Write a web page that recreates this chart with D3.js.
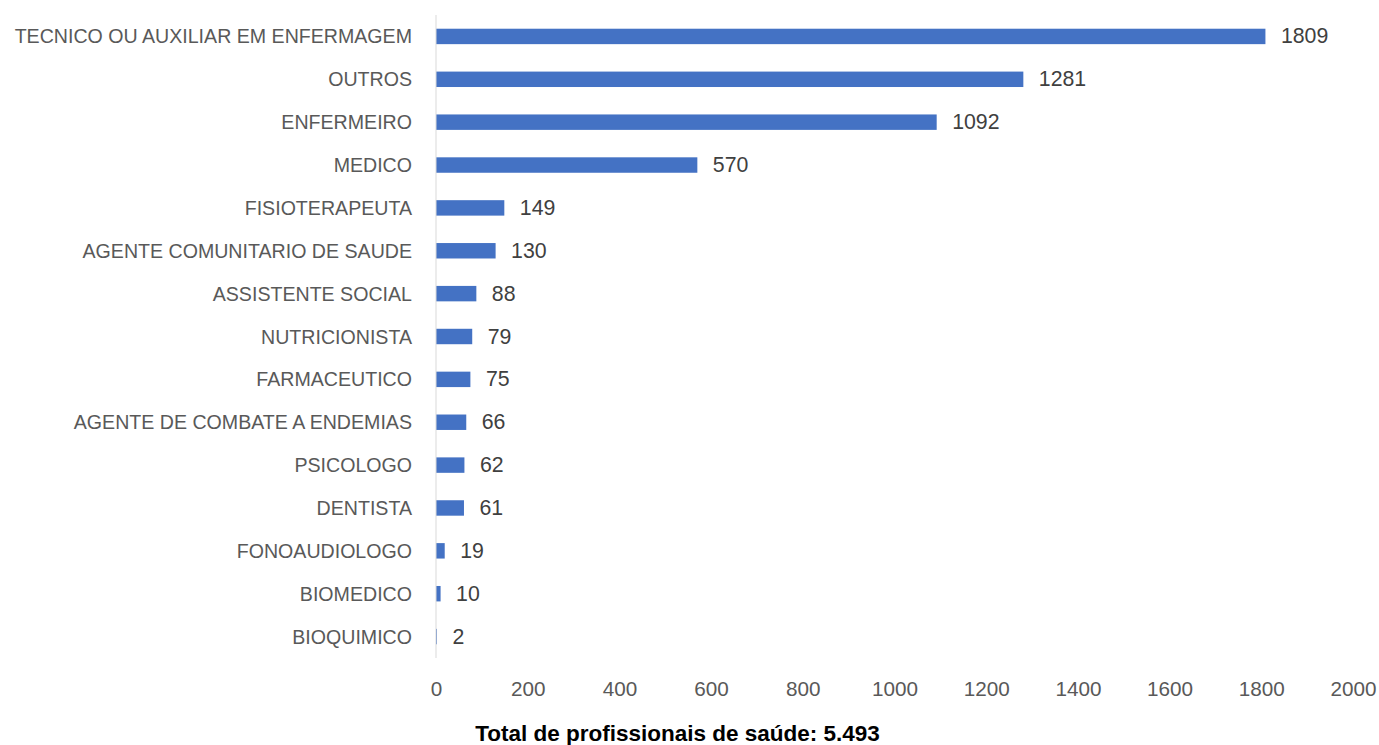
<!DOCTYPE html>
<html><head><meta charset="utf-8">
<script src="https://cdn.jsdelivr.net/npm/d3@7"></script>
<style>body{margin:0;background:#fff}</style>
</head><body>
<svg id="chart" width="1379" height="745"></svg>
<script>
const categories = ["TECNICO OU AUXILIAR EM ENFERMAGEM","OUTROS","ENFERMEIRO","MEDICO","FISIOTERAPEUTA","AGENTE COMUNITARIO DE SAUDE","ASSISTENTE SOCIAL","NUTRICIONISTA","FARMACEUTICO","AGENTE DE COMBATE A ENDEMIAS","PSICOLOGO","DENTISTA","FONOAUDIOLOGO","BIOMEDICO","BIOQUIMICO"];
const values = [1809,1281,1092,570,149,130,88,79,75,66,62,61,19,10,2];
const xTicks = [0,200,400,600,800,1000,1200,1400,1600,1800,2000];
const title = "Total de profissionais de saúde: 5.493";

const svg = d3.select("#chart");
const font = "Liberation Sans, Arial, sans-serif";
const x = d3.scaleLinear().domain([0,2000]).range([436,1353]);
const y = d3.scaleBand().domain(categories).range([15,658]).paddingInner(0.64).paddingOuter(0.32);

// bars
svg.append("g").selectAll("rect").data(values).join("rect")
  .attr("x", x(0)).attr("y", (d,i)=>y(categories[i]))
  .attr("width", d=>x(d)-x(0)).attr("height", y.bandwidth())
  .attr("fill","#4472C4");

// axis line
svg.append("line").attr("x1",x(0)).attr("x2",x(0)).attr("y1",15).attr("y2",658)
  .attr("stroke","#d9d9d9").attr("stroke-width",1);

// category labels
svg.append("g").selectAll("text").data(categories).join("text")
  .attr("x", 412).attr("y", d=>y(d)+y.bandwidth()/2)
  .attr("text-anchor","end").attr("dominant-baseline","central")
  .attr("font-family",font).attr("font-size",19.6)
  .attr("fill","#595959")
  .text(d=>d);

// value labels
svg.append("g").selectAll("text").data(values).join("text")
  .attr("x", d=>x(d)+15.5).attr("y",(d,i)=>y(categories[i])+y.bandwidth()/2)
  .attr("dominant-baseline","central")
  .attr("font-family",font).attr("font-size",21.3)
  .attr("fill","#404040").text(d=>d);

// x axis tick labels
const ax = d3.axisBottom(x).tickValues(xTicks).tickSize(0).tickPadding(0).tickFormat(d3.format("d"));
const g = svg.append("g").attr("transform","translate(0,681)").call(ax);
g.select(".domain").remove();
g.selectAll("text").attr("font-family",font).attr("font-size",20.7).attr("fill","#595959");

// title
svg.append("text").attr("x",677.5).attr("y",741).attr("text-anchor","middle")
  .attr("font-family",font).attr("font-weight","bold").attr("font-size",22.5)
  .attr("fill","#000").text(title);
</script>
</body></html>
